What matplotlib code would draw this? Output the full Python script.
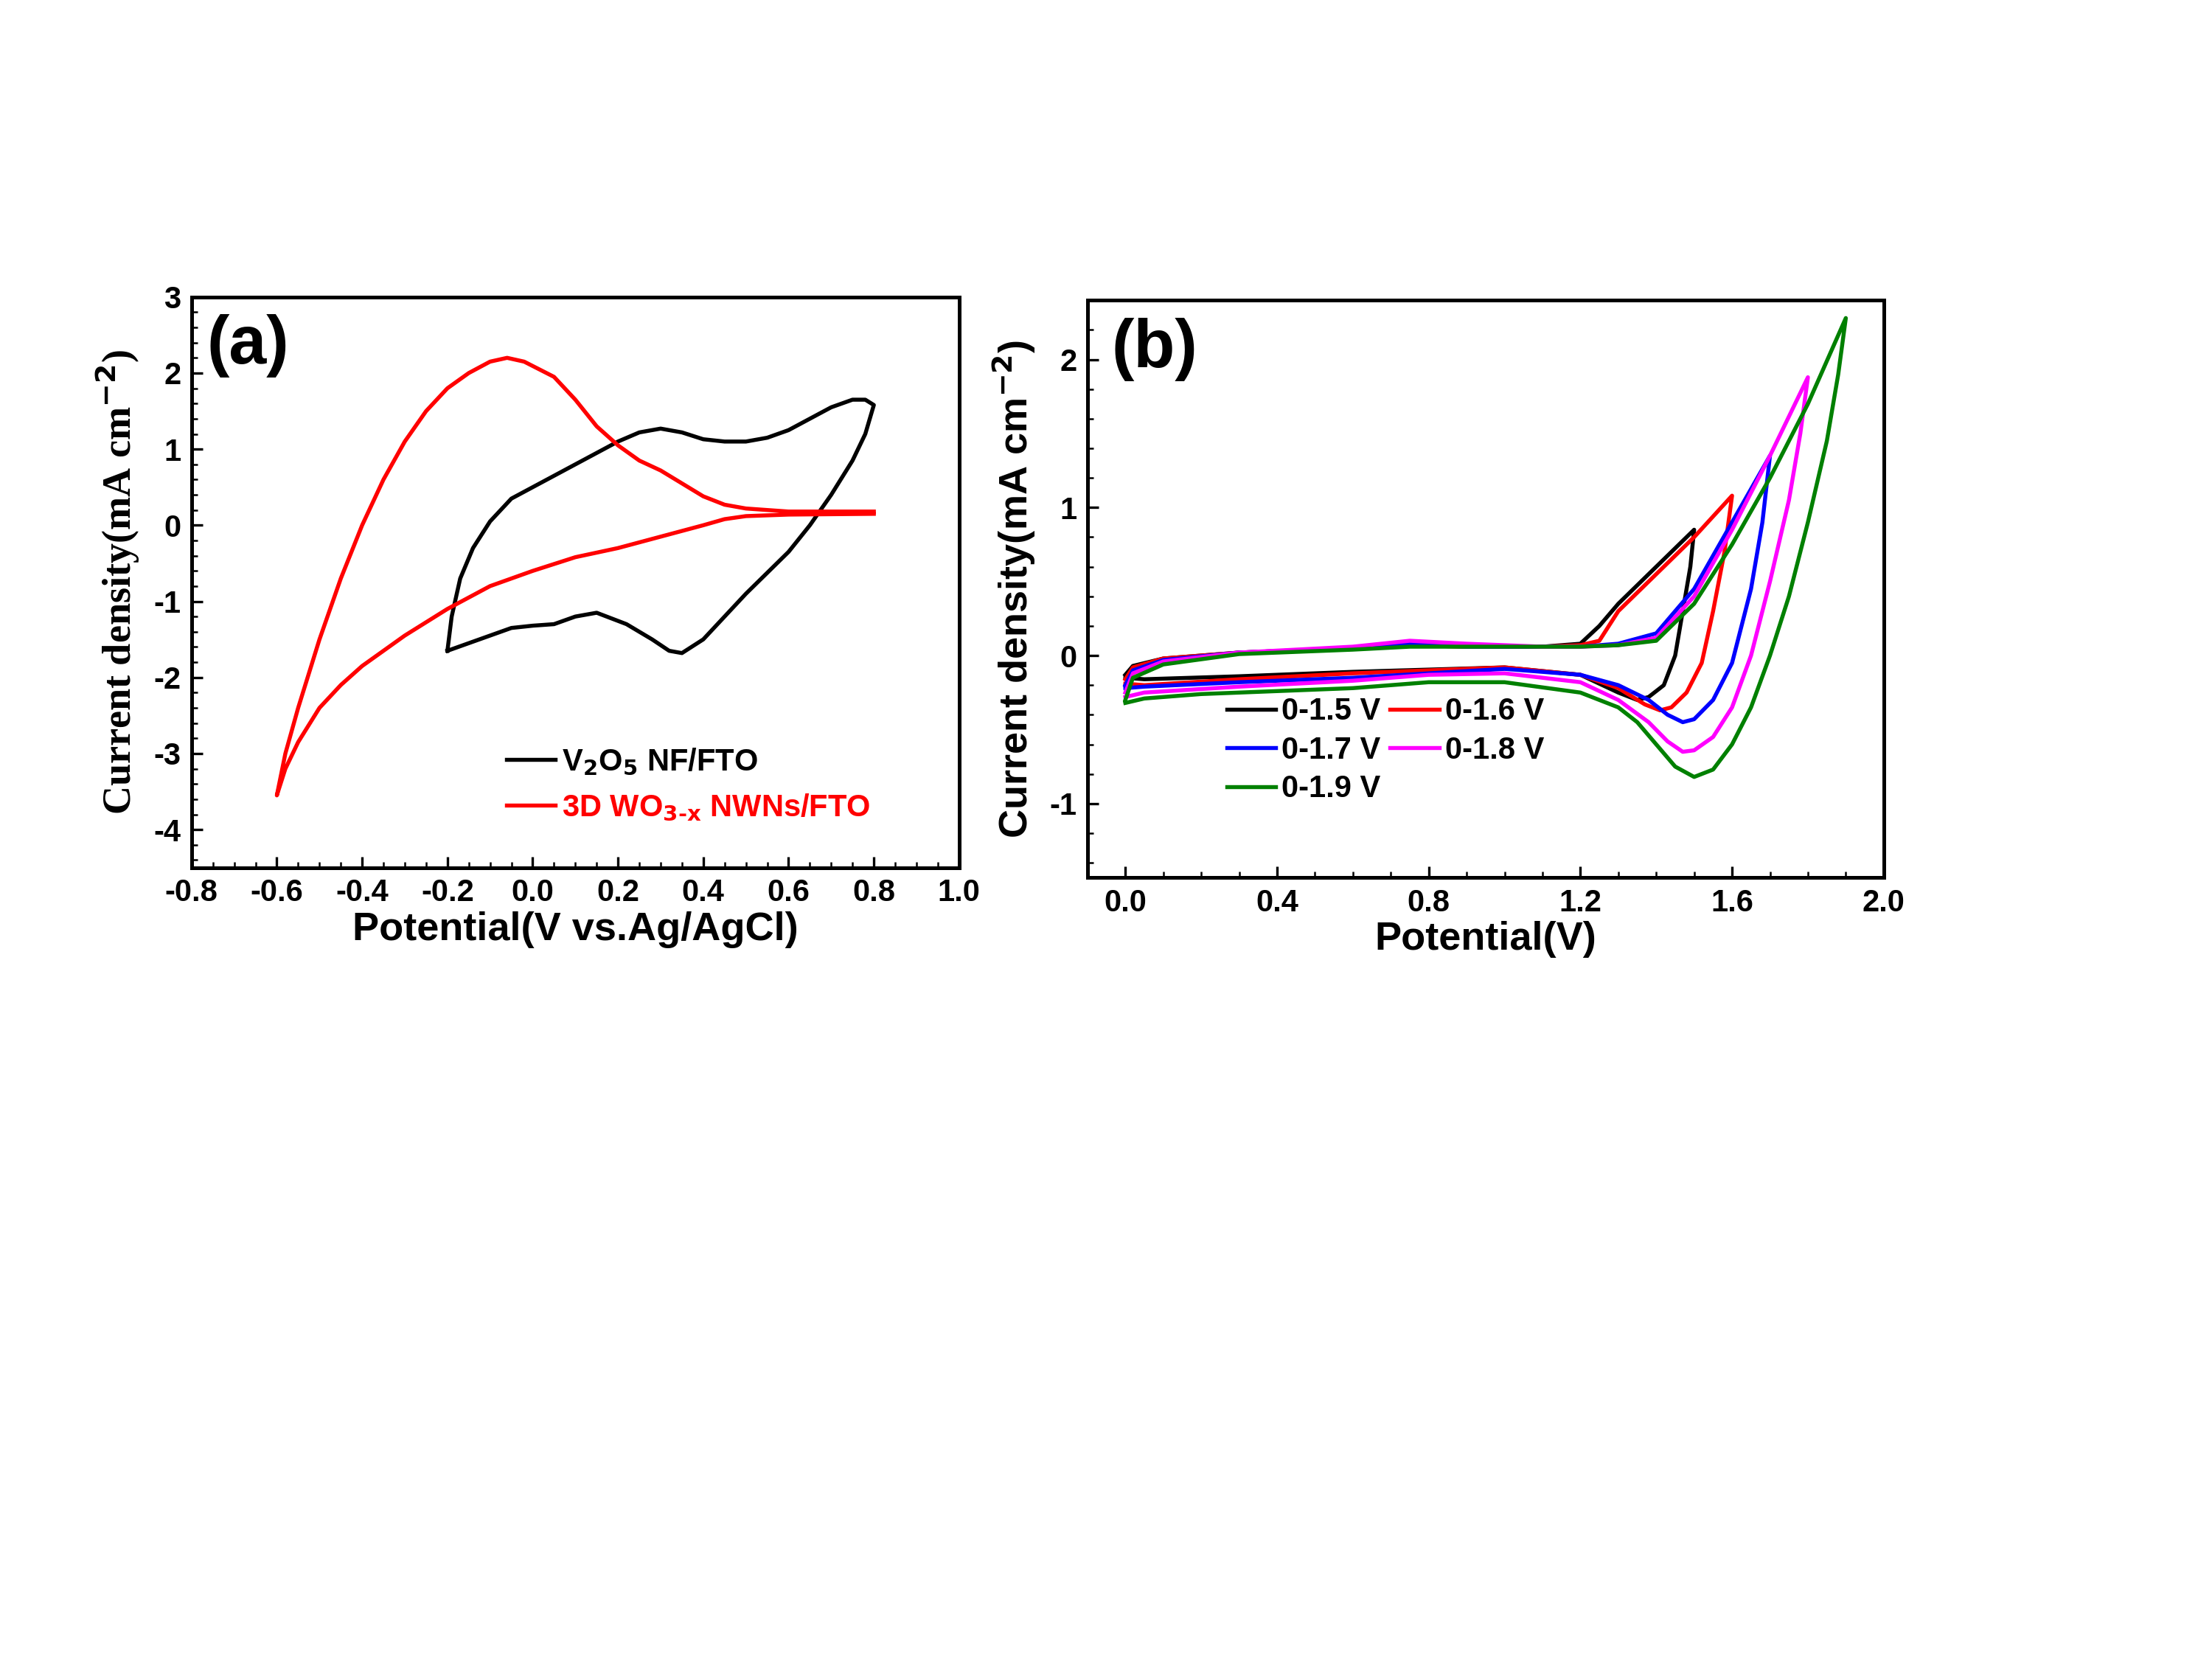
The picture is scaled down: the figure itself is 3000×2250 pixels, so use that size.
import matplotlib
matplotlib.use("Agg")
import matplotlib.pyplot as plt

plt.rcParams['font.family'] = ['Liberation Sans', 'DejaVu Sans']
plt.rcParams['font.weight'] = 'bold'
plt.rcParams['mathtext.default'] = 'bf'
plt.rcParams['axes.unicode_minus'] = False

# Panel (a)
v2o5_x = [-0.2,-0.19,-0.17,-0.14,-0.1,-0.05,0.0,0.05,0.1,0.15,0.2,0.25,0.3,0.35,0.4,0.45,0.5,0.55,0.6,0.65,0.7,0.75,0.78,0.8,
          0.78,0.75,0.7,0.65,0.6,0.5,0.45,0.4,0.35,0.32,0.28,0.22,0.15,0.1,0.05,0.0,-0.05,-0.1,-0.15,-0.2]
v2o5_y = [-1.65,-1.2,-0.7,-0.3,0.05,0.35,0.5,0.65,0.8,0.95,1.1,1.22,1.27,1.22,1.13,1.1,1.1,1.15,1.25,1.4,1.55,1.65,1.65,1.58,
          1.2,0.85,0.4,0.0,-0.35,-0.9,-1.2,-1.5,-1.68,-1.65,-1.5,-1.3,-1.15,-1.2,-1.3,-1.32,-1.35,-1.45,-1.55,-1.65]
wo3_x = [0.8,0.6,0.5,0.45,0.4,0.3,0.2,0.1,0.0,-0.1,-0.2,-0.3,-0.4,-0.45,-0.5,-0.55,-0.58,-0.6,
         -0.58,-0.55,-0.5,-0.45,-0.4,-0.35,-0.3,-0.25,-0.2,-0.15,-0.1,-0.06,-0.02,0.05,0.1,0.15,0.2,0.25,0.3,0.35,0.4,0.45,0.5,0.6,0.8]
wo3_y = [0.15,0.14,0.12,0.08,0.0,-0.15,-0.3,-0.42,-0.6,-0.8,-1.1,-1.45,-1.85,-2.1,-2.4,-2.85,-3.2,-3.55,
         -3.0,-2.4,-1.5,-0.7,0.0,0.6,1.1,1.5,1.8,2.0,2.15,2.2,2.15,1.95,1.65,1.3,1.05,0.85,0.72,0.55,0.38,0.27,0.22,0.18,0.18]

# Panel (b)
b_labels = ['0-1.5 V','0-1.6 V','0-1.7 V','0-1.8 V','0-1.9 V']
b_colors = ['black','red','blue','magenta','green']
base_x = [0.0,0.02,0.1,0.3,0.6,0.75,0.9,1.1]
b_x = [
 base_x + [1.2,1.25,1.3,1.4,1.5, 1.49,1.47,1.45,1.42,1.38,1.35,1.3,1.2,1.0,0.6,0.3,0.05,0.0],
 base_x + [1.2,1.25,1.3,1.4,1.5,1.6, 1.58,1.55,1.52,1.48,1.44,1.41,1.37,1.3,1.2,1.0,0.6,0.3,0.05,0.0],
 base_x + [1.2,1.3,1.4,1.5,1.6,1.7, 1.68,1.65,1.6,1.55,1.5,1.47,1.43,1.38,1.3,1.2,1.0,0.6,0.3,0.05,0.0],
 base_x + [1.2,1.3,1.4,1.5,1.6,1.7,1.8, 1.78,1.75,1.7,1.65,1.6,1.55,1.5,1.47,1.43,1.38,1.3,1.2,1.0,0.8,0.6,0.3,0.05,0.0],
 base_x + [1.2,1.3,1.4,1.5,1.6,1.7,1.8,1.9, 1.88,1.85,1.8,1.75,1.7,1.65,1.6,1.55,1.5,1.45,1.4,1.35,1.3,1.2,1.0,0.8,0.6,0.4,0.2,0.05,0.0],
]
b_y = [
 [-0.13,-0.07,-0.02,0.02,0.05,0.07,0.06,0.06, 0.08,0.2,0.35,0.6,0.85, 0.6,0.3,0.0,-0.2,-0.28,-0.3,-0.25,-0.13,-0.08,-0.11,-0.14,-0.16,-0.15],
 [-0.16,-0.08,-0.02,0.02,0.05,0.07,0.06,0.06, 0.07,0.1,0.3,0.55,0.8,1.08, 0.7,0.3,-0.05,-0.25,-0.35,-0.37,-0.33,-0.22,-0.13,-0.08,-0.12,-0.16,-0.2,-0.19],
 [-0.2,-0.1,-0.03,0.02,0.05,0.08,0.06,0.06, 0.06,0.08,0.15,0.45,0.9,1.35, 0.9,0.45,-0.05,-0.3,-0.43,-0.45,-0.4,-0.3,-0.2,-0.13,-0.09,-0.15,-0.18,-0.21,-0.22],
 [-0.25,-0.12,-0.04,0.02,0.06,0.1,0.08,0.06, 0.06,0.07,0.12,0.4,0.85,1.35,1.88, 1.5,1.05,0.5,0.0,-0.35,-0.55,-0.64,-0.65,-0.58,-0.45,-0.3,-0.18,-0.12,-0.13,-0.17,-0.21,-0.25,-0.28],
 [-0.3,-0.15,-0.06,0.01,0.04,0.06,0.06,0.06, 0.06,0.07,0.1,0.35,0.75,1.2,1.7,2.28, 1.9,1.45,0.9,0.4,0.0,-0.35,-0.6,-0.77,-0.82,-0.75,-0.6,-0.45,-0.35,-0.25,-0.18,-0.18,-0.22,-0.24,-0.26,-0.29,-0.32],
]

fig = plt.figure(figsize=(10, 7.5), dpi=300)
axa = fig.add_axes([0.0866, 0.477, 0.347, 0.344])
axb = fig.add_axes([0.4916, 0.471, 0.360, 0.348])

axa.plot(v2o5_x, v2o5_y, color='black', lw=1.3, label='V$_2$O$_5$ NF/FTO')
axa.plot(wo3_x, wo3_y, color='red', lw=1.3, label='3D WO$_{3\\text{-}x}$ NWNs/FTO')
axa.set_xlim(-0.8, 1.0)
axa.set_ylim(-4.5, 3)
axa.set_xticks([-0.8,-0.6,-0.4,-0.2,0.0,0.2,0.4,0.6,0.8,1.0])
axa.set_yticks(range(-4, 4))
axa.set_xlabel('Potential(V vs.Ag/AgCl)', fontsize=13, fontweight='bold', labelpad=1)
axa.set_ylabel('Current density(mA cm$^{-2}$)', fontsize=13, fontweight='bold',
               family='Liberation Serif')
leg = axa.legend(loc='lower right', bbox_to_anchor=(0.92, 0.03), frameon=False, fontsize=10,
                 handlelength=1.6, handletextpad=0.2)
for t, c in zip(leg.get_texts(), ['black', 'red']):
    t.set_color(c)
axa.text(0.02, 0.97, '(a)', transform=axa.transAxes, fontsize=22, fontweight='bold', va='top')

lines = []
for x, y, c, l in zip(b_x, b_y, b_colors, b_labels):
    ln, = axb.plot(x, y, color=c, lw=1.3, label=l)
    lines.append(ln)
axb.set_xlim(-0.1, 2.0)
axb.set_ylim(-1.5, 2.4)
axb.set_xticks([0.0,0.4,0.8,1.2,1.6,2.0])
axb.set_yticks([-1,0,1,2])
axb.set_xlabel('Potential(V)', fontsize=13, fontweight='bold', labelpad=1)
axb.set_ylabel('Current density(mA cm$^{-2}$)', fontsize=13, fontweight='bold')
order = [0, 2, 4, 1, 3]
axb.legend([lines[i] for i in order], [b_labels[i] for i in order],
           loc='lower left', bbox_to_anchor=(0.14, 0.08), ncol=2, frameon=False, fontsize=10,
           handlelength=1.6, handletextpad=0.2, columnspacing=0.3, labelspacing=0.3)
axb.text(0.03, 0.97, '(b)', transform=axb.transAxes, fontsize=22, fontweight='bold', va='top')

for ax in (axa, axb):
    ax.minorticks_on()
    ax.tick_params(which='both', direction='in', top=False, right=False, labelsize=10)
    for s in ax.spines.values():
        s.set_linewidth(1.2)
    for lab in ax.get_xticklabels() + ax.get_yticklabels():
        lab.set_fontweight('bold')

fig.savefig('out.png', dpi=300)
